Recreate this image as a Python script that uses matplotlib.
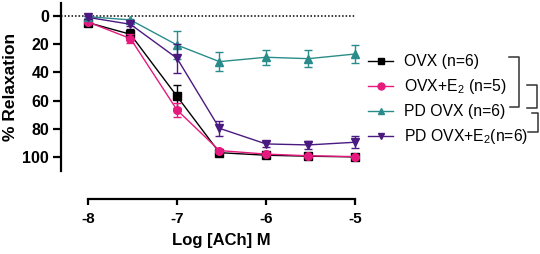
import matplotlib
matplotlib.use("Agg")
import matplotlib.pyplot as plt
from matplotlib.lines import Line2D
import numpy as np

plt.rcParams['font.family'] = ['Liberation Sans', 'DejaVu Sans']
plt.rcParams['mathtext.fontset'] = 'custom'
plt.rcParams['mathtext.rm'] = 'Liberation Sans'
plt.rcParams['mathtext.it'] = 'Liberation Sans:italic'
plt.rcParams['mathtext.bf'] = 'Liberation Sans:bold'

# Data
log_ach = [-8, -7.523, -7, -6.523, -6, -5.523, -5]
ovx = [4.7, 13, 57, 97, 98.8, 99.5, 100]
ovx_err = [0.8, 4, 8.3, 1, 0.5, 0.5, 0.5]
ovx_e2 = [4.3, 16, 66.7, 95.5, 98, 99.2, 99.8]
ovx_e2_err = [0.8, 3, 5, 1, 0.5, 0.5, 0.5]
pd_ovx = [0.5, 2.8, 20.6, 32.4, 29.3, 30.3, 27]
pd_ovx_err = [0.8, 1, 9.8, 6.8, 5.3, 5.9, 6.3]
pd_ovx_e2 = [1, 5.9, 30, 79.7, 90.8, 91.5, 89.6]
pd_ovx_e2_err = [0.8, 1.5, 10.3, 5.3, 2, 3, 4.4]
labels = ['OVX (n=6)', 'OVX+E$_2$ (n=5)', 'PD OVX (n=6)', 'PD OVX+E$_2$(n=6)']
colors = ['#000000', '#E6197E', '#2A8C8A', '#4A1A80']
markers = ['s', 'o', '^', 'v']
msizes = [6, 5.5, 5.8, 5.8]
yticks = [0, 20, 40, 60, 80, 100]
xticks = [-8, -7, -6, -5]

W, H = 540, 254
fig = plt.figure(figsize=(W / 100, H / 100), dpi=100)
ax = fig.add_axes([61 / W, 1 - 171 / H, (355 - 61) / W, (171 - 3) / H])

ax.set_xlim(-8 - 27 / 89, -5)
ax.set_ylim(110, -9.2)

# dotted line at 0
ax.axhline(0, color='black', ls=(0, (1, 1.3)), lw=1.1, zorder=1)

series = [(ovx, ovx_err), (ovx_e2, ovx_e2_err), (pd_ovx, pd_ovx_err), (pd_ovx_e2, pd_ovx_e2_err)]
order = [2, 3, 1, 0]
for i in order:
    y, e = series[i]
    ax.errorbar(log_ach, y, yerr=e, color=colors[i], marker=markers[i], ms=msizes[i],
                lw=1.0, elinewidth=1.0, capsize=3.2, capthick=1.0, clip_on=False,
                zorder=3 + i)

for s in ['top', 'right']:
    ax.spines[s].set_visible(False)
ax.spines['left'].set_linewidth(1.6)
ax.spines['bottom'].set_linewidth(1.6)
ax.spines['bottom'].set_position(('outward', 20))
ax.spines['bottom'].set_bounds(-8, -5)

ax.set_yticks(yticks)
ax.set_xticks(xticks)
ax.set_xticklabels([str(t) for t in xticks])
ax.tick_params(axis='y', length=5.5, width=1.6, pad=3, labelsize=11.5)
ax.tick_params(axis='x', length=4.5, width=1.6, pad=5, labelsize=11)
for lab in ax.get_xticklabels() + ax.get_yticklabels():
    lab.set_fontweight('bold')

ax.set_ylabel('% Relaxation', fontsize=12.5, fontweight='bold', labelpad=3)
ax.set_xlabel('Log [ACh] M', fontsize=12, fontweight='bold', va='center')
ax.xaxis.set_label_coords(221.5 / W, 1 - 241 / H, transform=fig.transFigure)

proxies = [Line2D([], [], color=colors[i], marker=markers[i], ms=5, lw=1.0) for i in range(4)]
leg = ax.legend(handles=proxies, labels=labels, loc='upper left',
                bbox_to_anchor=(368 / W, 1 - 54 / H), bbox_transform=fig.transFigure,
                frameon=False, fontsize=11.3, handlelength=1.6, handletextpad=0.7,
                labelspacing=0.52, borderpad=0, borderaxespad=0)

# brackets
def bracket(x_left_top, x_left_bot, x_v, y_top, y_bot):
    xs = [x_left_top / W, x_v / W, x_v / W, x_left_bot / W]
    ys = [1 - y_top / H, 1 - y_top / H, 1 - y_bot / H, 1 - y_bot / H]
    fig.add_artist(Line2D(xs, ys, color='#333333', lw=1.1, transform=fig.transFigure))

bracket(509, 510, 519, 57, 107)
bracket(527, 527, 537, 85, 108)
bracket(532, 528, 538, 113, 132)

fig.savefig('out.png', dpi=100)
